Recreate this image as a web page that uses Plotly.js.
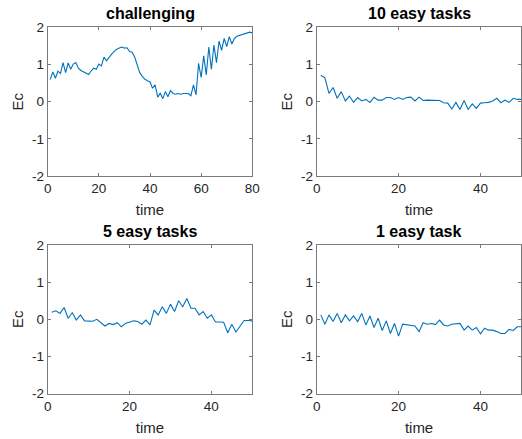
<!DOCTYPE html>
<html>
<head>
<meta charset="utf-8">
<script src="https://cdn.plot.ly/plotly-3.0.1.min.js"></script>
<style>html,body{margin:0;padding:0;background:#fff;}#chart{width:522px;height:439px;}</style>
</head>
<body>
<div id="chart"></div>
<script>
// ---- data ----
const titles = ["challenging", "10 easy tasks", "5 easy tasks", "1 easy task"];
const xLabel = "time";
const yLabel = "Ec";

const challenging = [0.60,0.80,0.63,0.82,0.76,1.05,0.78,1.04,0.87,1.01,
  1.05,0.90,0.84,0.80,0.78,0.73,0.83,0.90,0.87,1.01,
  0.96,1.20,1.10,1.20,1.28,1.35,1.41,1.44,1.47,1.44,
  1.45,1.35,1.33,1.20,1.00,0.78,0.68,0.60,0.56,0.53,
  0.36,0.45,0.12,0.23,0.08,0.27,0.13,0.30,0.22,0.20,
  0.22,0.20,0.22,0.21,0.22,0.16,0.45,0.18,1.03,0.65,
  1.23,0.72,1.47,0.87,1.52,1.05,1.63,1.38,1.70,1.48,
  1.75,1.55,1.70,1.76,1.78,1.80,1.83,1.85,1.87,1.85];

const easy10 = [0.71,0.64,0.22,0.38,0.09,0.27,0.02,0.15,-0.02,0.11,
  0.02,0.06,-0.02,0.12,0.04,0.04,0.11,0.11,0.06,0.11,
  0.06,0.11,0.12,0.02,0.12,0.03,0.04,0.04,0.05,0.03,
  -0.03,-0.04,-0.20,-0.02,-0.21,0.03,-0.21,-0.06,-0.18,-0.04,
  -0.03,-0.02,0.02,0.09,-0.03,0.04,-0.02,0.09,0.06,0.06];

const easy5 = [0.19,0.23,0.16,0.32,0.03,0.18,-0.02,0.12,-0.04,-0.05,
  -0.05,0.00,-0.09,-0.18,-0.11,-0.14,-0.09,-0.20,-0.11,-0.07,
  -0.04,-0.06,-0.13,-0.02,-0.15,0.25,0.12,0.34,0.16,0.41,
  0.21,0.50,0.34,0.56,0.30,0.30,0.12,0.21,0.03,0.12,
  -0.07,-0.07,-0.08,-0.36,-0.13,-0.34,-0.18,-0.03,-0.03,-0.04];

const easy1 = [0.12,-0.13,0.12,-0.06,0.16,-0.09,0.12,-0.04,0.09,-0.06,
  0.16,-0.15,0.09,-0.22,0.03,-0.30,-0.04,-0.38,-0.11,-0.45,
  -0.13,-0.15,-0.15,-0.18,-0.33,-0.09,-0.13,-0.11,-0.14,-0.02,
  -0.15,-0.18,-0.13,-0.13,-0.11,-0.29,-0.18,-0.29,-0.22,-0.39,
  -0.24,-0.29,-0.29,-0.33,-0.38,-0.38,-0.27,-0.30,-0.20,-0.20];

const series = [challenging, easy10, easy5, easy1];
const xMax = [80, 50, 50, 50];
const xTicks = [[0,20,40,60,80],[0,20,40],[0,20,40],[0,20,40]];
const yTicks = [-2,-1,0,1,2];
const yTickLabels = ["-2","-1","0","1","2"];

// ---- layout ----
const W = 522, H = 439;
const colsPx = [[47.7, 252.3], [316.7, 521.4]];
const rowsPx = [[27.3, 176], [245, 393.7]];
const lineColor = '#0072BD';
const axisColor = '#7a7a7a';
const textColor = '#262626';
const fontFam = 'Liberation Sans, Arial, Helvetica, sans-serif';

const traces = [];
const layout = {
  width: W, height: H,
  margin: {l:0, r:0, t:0, b:0},
  paper_bgcolor: '#fff', plot_bgcolor: '#fff',
  showlegend: false,
  font: {family: fontFam, color: textColor, size: 13.5},
  annotations: []
};

series.forEach((ys, i) => {
  const r = Math.floor(i/2), c = i % 2;
  const xs = ys.map((_, k) => k + 1);
  const n = i + 1;
  const xa = n === 1 ? 'x' : 'x' + n;
  const ya = n === 1 ? 'y' : 'y' + n;
  traces.push({x: xs, y: ys, type: 'scatter', mode: 'lines',
    line: {color: lineColor, width: 1.1}, xaxis: xa, yaxis: ya, hoverinfo: 'skip'});
  const xd = [colsPx[c][0]/W, colsPx[c][1]/W];
  const yd = [(H - rowsPx[r][1])/H, (H - rowsPx[r][0])/H];
  const common = {
    showline: true, mirror: 'ticks', linecolor: axisColor, linewidth: 1,
    ticks: 'inside', ticklen: 3, tickcolor: axisColor, tickwidth: 1,
    showgrid: false, zeroline: false, fixedrange: true,
    tickfont: {family: fontFam, size: 13.5, color: textColor}
  };
  layout['xaxis' + (n === 1 ? '' : n)] = Object.assign({}, common, {
    domain: xd, range: [0, xMax[i]], tickvals: xTicks[i], anchor: ya,
    title: {text: xLabel, font: {family: fontFam, size: 15, color: textColor}, standoff: 9}
  });
  layout['yaxis' + (n === 1 ? '' : n)] = Object.assign({}, common, {
    domain: yd, range: [-2, 2], tickvals: yTicks, ticktext: yTickLabels, anchor: xa,
    title: {text: yLabel, font: {family: fontFam, size: 15, color: textColor}, standoff: 4}
  });
  layout.annotations.push({
    text: '<b>' + titles[i] + '</b>', xref: 'paper', yref: 'paper',
    x: (xd[0] + xd[1]) / 2, y: yd[1] + 13.5/H, xanchor: 'center', yanchor: 'middle',
    showarrow: false, font: {family: fontFam, size: 16, color: '#000'}
  });
});

Plotly.newPlot('chart', traces, layout, {staticPlot: true, displayModeBar: false});
</script>
</body>
</html>
